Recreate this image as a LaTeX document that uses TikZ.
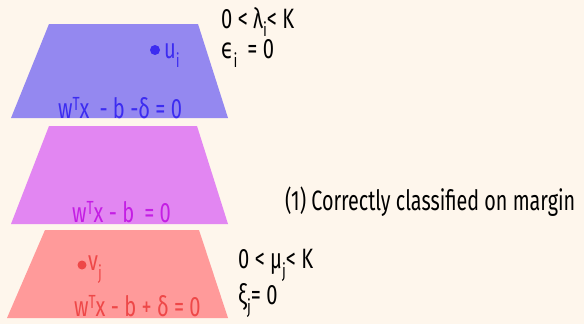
\documentclass[tikz,border=0pt]{standalone}
\usepackage{fontspec}
\setmainfont{Fira Sans}
\newfontfamily\cf[FakeStretch=0.72]{Fira Sans}
\newfontfamily\cft[FakeStretch=0.705]{Fira Sans}
\newfontfamily\cfd[FakeStretch=0.72]{DejaVu Sans}
\definecolor{bgc}{RGB}{254,246,236}
\definecolor{bluef}{RGB}{148,136,240}
\definecolor{magf}{RGB}{226,134,242}
\definecolor{redf}{RGB}{255,154,154}
\definecolor{bluet}{RGB}{60,44,240}
\definecolor{magt}{RGB}{196,30,228}
\definecolor{redt}{RGB}{238,72,72}
\newcommand{\sbs}[1]{\raisebox{-9pt}{\fontsize{19}{19}\selectfont #1}}
\newcommand{\sps}[1]{\raisebox{8pt}{\fontsize{19}{19}\selectfont #1}}
\tikzset{lab/.style={inner sep=0pt, anchor=base west, font=\cf\fontsize{28}{28}\selectfont}}
\begin{document}
\begin{tikzpicture}[x=1pt,y=-1pt]
\useasboundingbox (0,0) rectangle (584,324);
\fill[bgc] (0,0) rectangle (584,324);
% trapezoids
\fill[bluef] (49,24) -- (198,24) -- (228,118) -- (11,118) -- cycle;
\fill[magf] (49,126) -- (197,126) -- (228,224) -- (11,224) -- cycle;
\fill[redf] (45,230) -- (199,230) -- (228,318) -- (7,318) -- cycle;
% blue labels
\fill[bluet] (155,50) circle (5);
\node[lab, text=bluet] (u) at (164,58) {u\sbs{i}};
\node[lab, text=bluet] (e1) at (58,118) {w\sps{T}x\, - b -δ = 0};
% magenta label
\node[lab, text=magt] (e2) at (72,222) {w\sps{T}x - b \,= 0};
% red labels
\fill[redt] (82,265) circle (4.5);
\node[lab, text=redt] (v) at (88,270) {v\sbs{j}};
\node[lab, text=redt] (e3) at (74,316) {w\sps{T}x - b + δ = 0};
% black texts
\node[lab] (c1) at (221,28) {0 < λ\raisebox{-8pt}{\fontsize{19}{19}\selectfont i}< K};
\node[lab] (c2) at (221,58) {{\cfd ϵ}\sbs{i} \,= 0};
\node[lab, font=\cft\fontsize{28}{28}\selectfont] (t) at (285,210) {(1) Correctly classified on margin};
\node[lab] (c3) at (238,268) {0 < μ\sbs{j}< K};
\node[lab] (c4) at (238,304) {ξ\sbs{j}= 0};
\end{tikzpicture}
\end{document}
